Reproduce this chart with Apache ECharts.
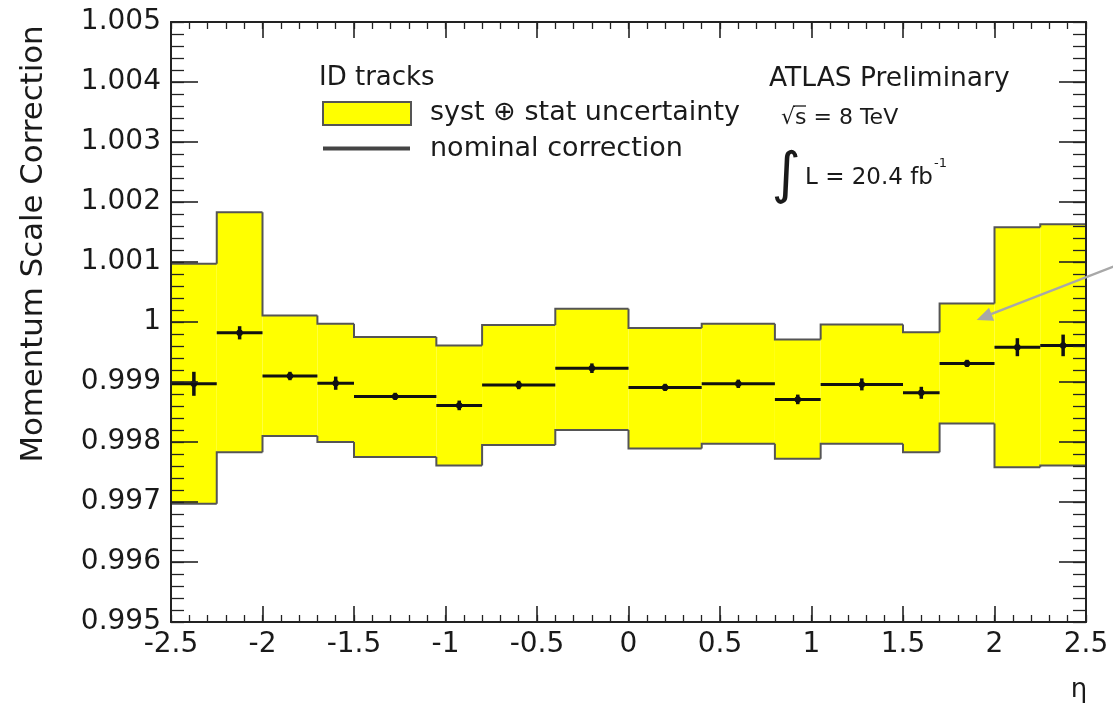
<!DOCTYPE html>
<html>
<head>
<meta charset="utf-8">
<title>Momentum Scale Correction vs eta</title>
<script src="https://cdn.jsdelivr.net/npm/echarts@6/dist/echarts.min.js"></script>
<style>
  html, body { margin: 0; padding: 0; background: #fff; }
  #chart { width: 1113px; height: 710px; }
</style>
</head>
<body>
<div id="chart"></div>
<script>
// eta bin edges (16 bins)
const etaEdges = [-2.5, -2.25, -2.0, -1.7, -1.5, -1.05, -0.8, -0.4, 0, 0.4, 0.8, 1.05, 1.5, 1.7, 2.0, 2.25, 2.5];

// nominal momentum scale correction per bin
const nominal = [0.99897, 0.99982, 0.99910, 0.99898, 0.99876, 0.99861, 0.99895, 0.99923,
                 0.99891, 0.99897, 0.99871, 0.99896, 0.99882, 0.99931, 0.99958, 0.99961];

// statistical error on the nominal value
const statErr = [0.00020, 0.00011, 0.00007, 0.00011, 0.00006, 0.00008, 0.00007, 0.00008,
                 0.00006, 0.00007, 0.00008, 0.00010, 0.00010, 0.00006, 0.00015, 0.00018];

// syst (+) stat uncertainty band, lower and upper edge per bin
const bandLow  = [0.99697, 0.99783, 0.99810, 0.99800, 0.99775, 0.99761, 0.99795, 0.99820,
                  0.99789, 0.99797, 0.99772, 0.99797, 0.99783, 0.99831, 0.99758, 0.99761];
const bandHigh = [1.00097, 1.00183, 1.00011, 0.99997, 0.99975, 0.99961, 0.99995, 1.00022,
                  0.99990, 0.99997, 0.99971, 0.99996, 0.99983, 1.00031, 1.00158, 1.00163];

// axis ranges and tick steps
const xRange = [-2.5, 2.5];
const yRange = [0.995, 1.005];
const xMajor = 0.5, xMinor = 0.1;
const yMajor = 0.001, yMinor = 0.0002;

const FONT = '"DejaVu Sans", "Liberation Sans", sans-serif';
const INK = '#1a1a1a';

// one row per bin: [lowEdge, highEdge, bandLow, bandHigh, nominal, statErr, prevBandLow, prevBandHigh]
const bins = nominal.map((v, i) => [
  etaEdges[i], etaEdges[i + 1], bandLow[i], bandHigh[i], v, statErr[i],
  i > 0 ? bandLow[i - 1] : bandLow[i], i > 0 ? bandHigh[i - 1] : bandHigh[i]
]);
const lastBin = bins.length - 1;

// Builds one axis of the frame. Major and minor ticks each get their own axis
// so that both tick lengths are fully under control.
function frameAxis(position, range, step, tickLen, withLine, label) {
  return {
    type: 'value', min: range[0], max: range[1], interval: step,
    position: position, z: 6,
    axisLine: { show: withLine, onZero: false, lineStyle: { color: '#222', width: 2 } },
    axisTick: { show: true, inside: true, length: tickLen,
                lineStyle: { color: '#222', width: withLine ? 1.6 : 1.3 } },
    minorTick: { show: false },
    splitLine: { show: false },
    axisLabel: label || { show: false }
  };
}

const xLabel = {
  show: true, fontSize: 28, color: INK, margin: 9, fontFamily: FONT,
  showMinLabel: true, showMaxLabel: true,
  formatter: v => String(parseFloat(v.toFixed(2)))
};
const yLabel = {
  show: true, fontSize: 28, color: INK, margin: 10, fontFamily: FONT,
  showMinLabel: true, showMaxLabel: true,
  formatter: v => String(parseFloat(v.toFixed(3)))
};

const option = {
  animation: false,
  backgroundColor: '#ffffff',
  textStyle: { fontFamily: FONT },
  grid: { left: 171, right: 27, top: 22, bottom: 88, outerBoundsMode: 'none', containLabel: false },
  xAxis: [
    frameAxis('bottom', xRange, xMajor, 16, true, xLabel),
    frameAxis('top', xRange, xMajor, 16, true),
    frameAxis('bottom', xRange, xMinor, 7, false),
    frameAxis('top', xRange, xMinor, 7, false)
  ],
  yAxis: [
    frameAxis('left', yRange, yMajor, 27, true, yLabel),
    frameAxis('right', yRange, yMajor, 27, true),
    frameAxis('left', yRange, yMinor, 13, false),
    frameAxis('right', yRange, yMinor, 13, false)
  ],
  series: [
    {
      // uncertainty band fill
      name: 'syst ⊕ stat uncertainty',
      type: 'custom',
      xAxisIndex: 0, yAxisIndex: 0, z: 2,
      data: bins,
      encode: { x: [0, 1], y: [2, 3] },
      renderItem: function (params, api) {
        const p0 = api.coord([api.value(0), api.value(3)]);
        const p1 = api.coord([api.value(1), api.value(2)]);
        return {
          type: 'rect',
          shape: { x: p0[0], y: p0[1], width: p1[0] - p0[0], height: p1[1] - p0[1] },
          style: { fill: '#ffff00' }
        };
      }
    },
    {
      // uncertainty band outline (step contour)
      name: 'band outline',
      type: 'custom',
      xAxisIndex: 0, yAxisIndex: 0, z: 3,
      data: bins,
      encode: { x: [0, 1], y: [2, 3] },
      renderItem: function (params, api) {
        const x0 = api.value(0), x1 = api.value(1);
        const lo = api.value(2), hi = api.value(3);
        const pLo = api.value(6), pHi = api.value(7);
        const st = { stroke: '#555', lineWidth: 2, fill: null };
        const seg = (a, b) => ({ type: 'line', shape: { x1: a[0], y1: a[1], x2: b[0], y2: b[1] }, style: st });
        const children = [
          { type: 'polyline', shape: { points: [api.coord([x0, pHi]), api.coord([x0, hi]), api.coord([x1, hi])] }, style: st },
          { type: 'polyline', shape: { points: [api.coord([x0, pLo]), api.coord([x0, lo]), api.coord([x1, lo])] }, style: st }
        ];
        if (params.dataIndex === 0) children.push(seg(api.coord([x0, lo]), api.coord([x0, hi])));
        if (params.dataIndex === lastBin) children.push(seg(api.coord([x1, lo]), api.coord([x1, hi])));
        return { type: 'group', children: children };
      }
    },
    {
      // nominal correction with statistical error bars
      name: 'nominal correction',
      type: 'custom',
      xAxisIndex: 0, yAxisIndex: 0, z: 4,
      data: bins,
      encode: { x: [0, 1], y: 4 },
      renderItem: function (params, api) {
        const x0 = api.value(0), x1 = api.value(1);
        const v = api.value(4), e = api.value(5);
        const xc = (x0 + x1) / 2;
        const a = api.coord([x0, v]), b = api.coord([x1, v]);
        const c = api.coord([xc, v]);
        const up = api.coord([xc, v + e]), dn = api.coord([xc, v - e]);
        return {
          type: 'group',
          children: [
            { type: 'line', shape: { x1: a[0], y1: a[1], x2: b[0], y2: b[1] }, style: { stroke: '#111', lineWidth: 3 } },
            { type: 'line', shape: { x1: up[0], y1: up[1], x2: dn[0], y2: dn[1] }, style: { stroke: '#111', lineWidth: 3.5 } },
            { type: 'circle', shape: { cx: c[0], cy: c[1], r: 3.2 }, style: { fill: '#111' } }
          ]
        };
      }
    }
  ],
  graphic: [
    // y-axis title
    { type: 'text', x: 34, y: 244, rotation: Math.PI / 2, z: 10,
      style: { text: 'Momentum Scale Correction', fontSize: 30.8, fontFamily: FONT, fill: INK, align: 'center', verticalAlign: 'middle' } },
    // x-axis title
    { type: 'text', x: 1079, y: 690, z: 10,
      style: { text: 'η', fontSize: 26, fontFamily: FONT, fill: INK, align: 'center', verticalAlign: 'middle' } },

    // legend
    { type: 'text', x: 319, y: 78, z: 10,
      style: { text: 'ID tracks', fontSize: 26, fontFamily: FONT, fill: INK, align: 'left', verticalAlign: 'middle' } },
    { type: 'rect', z: 10, shape: { x: 323, y: 102, width: 88, height: 23 },
      style: { fill: '#ffff00', stroke: '#555', lineWidth: 2 } },
    { type: 'text', x: 430, y: 113, z: 10,
      style: { text: 'syst ⊕ stat uncertainty', fontSize: 27, fontFamily: FONT, fill: INK, align: 'left', verticalAlign: 'middle' } },
    { type: 'line', z: 10, shape: { x1: 323, y1: 148.5, x2: 410, y2: 148.5 },
      style: { stroke: '#444', lineWidth: 4 } },
    { type: 'text', x: 430, y: 149, z: 10,
      style: { text: 'nominal correction', fontSize: 27, fontFamily: FONT, fill: INK, align: 'left', verticalAlign: 'middle' } },

    // experiment label
    { type: 'text', x: 769, y: 79, z: 10,
      style: { text: 'ATLAS Preliminary', fontSize: 26.5, fontFamily: FONT, fill: INK, align: 'left', verticalAlign: 'middle' } },
    { type: 'text', x: 781, y: 118, z: 10,
      style: { text: '√s = 8 TeV', fontSize: 22, fontFamily: FONT, fill: INK, align: 'left', verticalAlign: 'middle' } },
    { type: 'line', z: 10, shape: { x1: 793, y1: 106, x2: 806, y2: 106 },
      style: { stroke: INK, lineWidth: 1.3 } },
    { type: 'text', x: 786, y: 177, z: 10,
      style: { text: '∫', fontSize: 56, fontFamily: FONT, fill: INK, align: 'center', verticalAlign: 'middle' } },
    { type: 'text', x: 805, y: 178, z: 10,
      style: { text: 'L = 20.4 fb', fontSize: 23, fontFamily: FONT, fill: INK, align: 'left', verticalAlign: 'middle' } },
    { type: 'text', x: 934, y: 164, z: 10,
      style: { text: '-1', fontSize: 13, fontFamily: FONT, fill: INK, align: 'left', verticalAlign: 'middle' } },

    // pointer arrow
    { type: 'line', z: 10, shape: { x1: 1120, y1: 264, x2: 991, y2: 314.2 },
      style: { stroke: '#a8a8a8', lineWidth: 2.5 } },
    { type: 'polygon', z: 10, shape: { points: [[976.7, 320], [994.1, 320.7], [989.0, 307.7]] },
      style: { fill: '#a8a8a8' } }
  ]
};

const chart = echarts.init(document.getElementById('chart'), null, { renderer: 'canvas' });
chart.setOption(option);
</script>
</body>
</html>
